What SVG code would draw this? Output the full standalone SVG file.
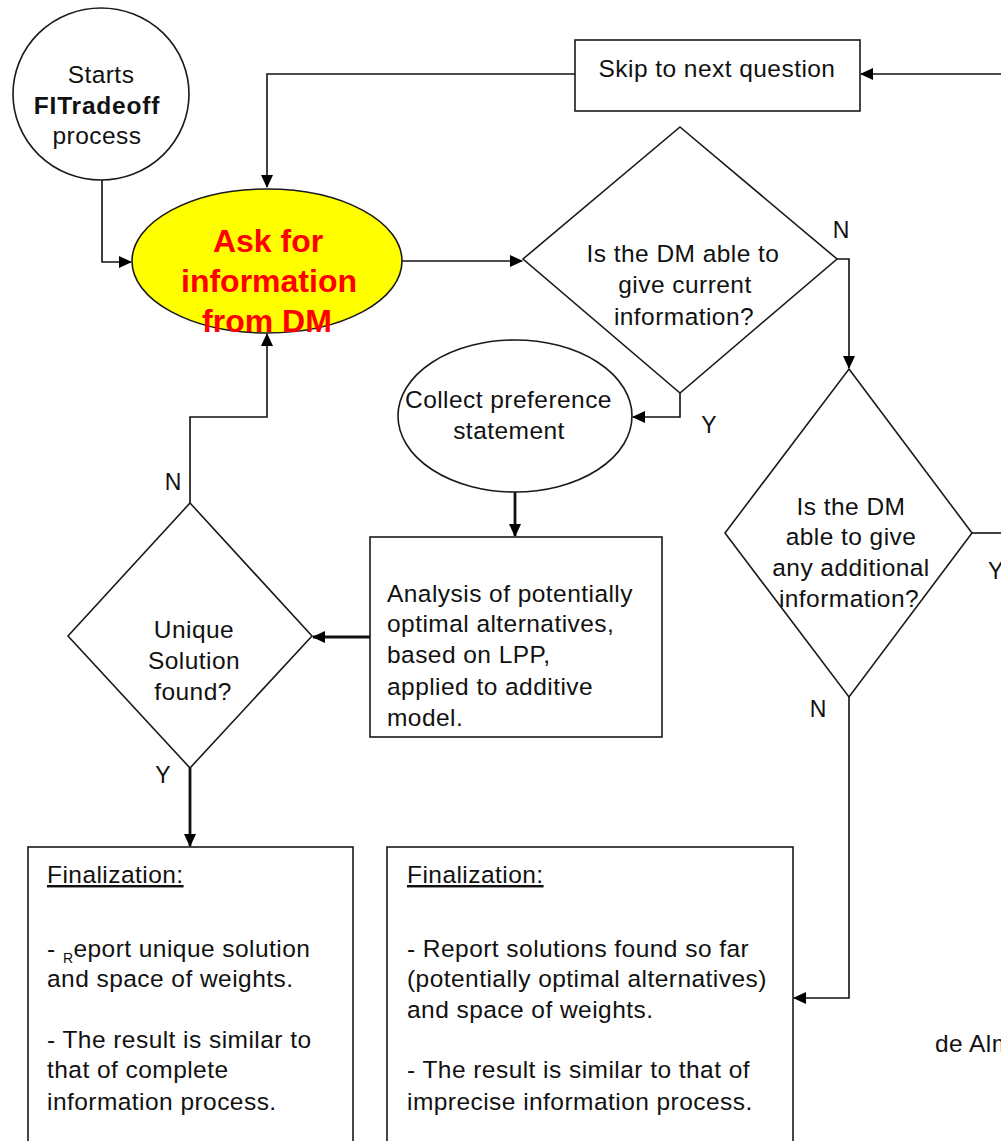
<svg xmlns="http://www.w3.org/2000/svg" width="1001" height="1141" viewBox="0 0 1001 1141">
  <style>
    .shape { fill: #ffffff; stroke: #1a1a1a; stroke-width: 1.6; }
    .txt { font-family: "Liberation Sans", Arial, sans-serif; font-size: 24.5px; letter-spacing: 0.45px; fill: #111111; }
    .mid { text-anchor: middle; }
    .bold { font-weight: bold; letter-spacing: 0.8px; }
    .red { font-family: "Liberation Sans", Arial, sans-serif; font-size: 32px; font-weight: bold; fill: #ff0000; text-anchor: middle; }
    .conn { fill: none; stroke: #111111; stroke-width: 1.6; }
    .thick { stroke-width: 2.8; }
    .lbl { font-family: "Liberation Sans", Arial, sans-serif; font-size: 23px; fill: #111111; text-anchor: middle; }
  </style>
  <defs>
    <marker id="arrow" markerUnits="userSpaceOnUse" markerWidth="14" markerHeight="12" refX="12" refY="6" orient="auto">
      <path d="M0,0 L13,6 L0,12 z" fill="#000000"/>
    </marker>
  </defs>
  <rect width="1001" height="1141" fill="#ffffff"/>

  <!-- connectors -->
  <g id="connectors">
    <path class="conn" d="M102,180 V262 H131" marker-end="url(#arrow)"/>
    <path class="conn" d="M575,74 H267 V187" marker-end="url(#arrow)"/>
    <path class="conn" d="M1001,74 H861" marker-end="url(#arrow)"/>
    <path class="conn" d="M402,261 H522" marker-end="url(#arrow)"/>
    <path class="conn" d="M837,259 H849 V368" marker-end="url(#arrow)"/>
    <path class="conn" d="M680,393 V417 H633" marker-end="url(#arrow)"/>
    <path class="conn thick" d="M515,492 V536" marker-end="url(#arrow)"/>
    <path class="conn thick" d="M370,637 H313" marker-end="url(#arrow)"/>
    <path class="conn" d="M190,503 V417 H267 V334" marker-end="url(#arrow)"/>
    <path class="conn thick" d="M190,768 V846" marker-end="url(#arrow)"/>
    <path class="conn" d="M849,697 V998 H794" marker-end="url(#arrow)"/>
    <path class="conn" d="M972,533 H1001"/>
    <text class="lbl" x="841" y="238">N</text>
    <text class="lbl" x="709" y="433">Y</text>
    <text class="lbl" x="173" y="490">N</text>
    <text class="lbl" x="163" y="783">Y</text>
    <text class="lbl" x="818" y="717">N</text>
    <text class="lbl" x="988" y="579" style="text-anchor:start">Y</text>
  </g>

  <!-- start node -->
  <g id="start">
    <ellipse class="shape" cx="101" cy="94" rx="88" ry="86"/>
    <text class="txt mid" x="101" y="83">Starts</text>
    <text class="txt mid bold" x="97" y="114">FITradeoff</text>
    <text class="txt mid" x="97" y="144">process</text>
  </g>

  <!-- ask for information -->
  <g id="ask">
    <ellipse cx="267" cy="261" rx="135" ry="72" fill="#ffff00" stroke="#1a1a1a" stroke-width="1.6"/>
    <text class="red" x="268" y="252">Ask for</text>
    <text class="red" x="269" y="292">information</text>
    <text class="red" x="267" y="332">from DM</text>
  </g>

  <!-- skip -->
  <g id="skip">
    <rect class="shape" x="575" y="40" width="285" height="71"/>
    <text class="txt mid" x="717" y="77">Skip to next question</text>
  </g>

  <!-- decision: current information -->
  <g id="able-current">
    <polygon class="shape" points="680,127 837,259 680,393 523,259"/>
    <text class="txt mid" x="683" y="262">Is the DM able to</text>
    <text class="txt mid" x="685" y="293">give current</text>
    <text class="txt mid" x="684" y="325">information?</text>
  </g>

  <!-- collect preference -->
  <g id="collect">
    <ellipse class="shape" cx="515" cy="416" rx="117" ry="76"/>
    <text class="txt" x="405" y="408">Collect preference</text>
    <text class="txt mid" x="509" y="439">statement</text>
  </g>

  <!-- analysis -->
  <g id="analysis">
    <rect class="shape" x="370" y="537" width="292" height="200"/>
    <text class="txt" x="387" y="602">Analysis of potentially</text>
    <text class="txt" x="387" y="632">optimal alternatives,</text>
    <text class="txt" x="387" y="663">based on LPP,</text>
    <text class="txt" x="387" y="695">applied to additive</text>
    <text class="txt" x="387" y="726">model.</text>
  </g>

  <!-- decision: unique solution -->
  <g id="unique">
    <polygon class="shape" points="190,503 312,636 190,768 68,636"/>
    <text class="txt mid" x="194" y="638">Unique</text>
    <text class="txt mid" x="194" y="669">Solution</text>
    <text class="txt mid" x="193" y="700">found?</text>
  </g>

  <!-- decision: additional information -->
  <g id="able-additional">
    <polygon class="shape" points="849,369 972,533 849,697 725,533"/>
    <text class="txt mid" x="851" y="515">Is the DM</text>
    <text class="txt mid" x="851" y="545">able to give</text>
    <text class="txt mid" x="851" y="576">any additional</text>
    <text class="txt mid" x="849" y="607">information?</text>
  </g>

  <!-- finalization: unique solution -->
  <g id="final-unique">
    <rect class="shape" x="28" y="847" width="325" height="310"/>
    <text class="txt" x="47" y="883" text-decoration="underline">Finalization:</text>
    <text class="txt" x="47" y="957">- <tspan font-size="14" dy="6">R</tspan><tspan dy="-6">eport unique solution</tspan></text>
    <text class="txt" x="47" y="987">and space of weights.</text>
    <text class="txt" x="47" y="1048">- The result is similar to</text>
    <text class="txt" x="47" y="1078">that of complete</text>
    <text class="txt" x="47" y="1110">information process.</text>
  </g>

  <!-- finalization: imprecise -->
  <g id="final-imprecise">
    <rect class="shape" x="387" y="847" width="406" height="310"/>
    <text class="txt" x="407" y="883" text-decoration="underline">Finalization:</text>
    <text class="txt" x="407" y="957">- Report solutions found so far</text>
    <text class="txt" x="407" y="987">(potentially optimal alternatives)</text>
    <text class="txt" x="407" y="1018">and space of weights.</text>
    <text class="txt" x="407" y="1078">- The result is similar to that of</text>
    <text class="txt" x="407" y="1110">imprecise information process.</text>
  </g>

  <text class="txt" x="935" y="1052">de Alm</text>
</svg>
